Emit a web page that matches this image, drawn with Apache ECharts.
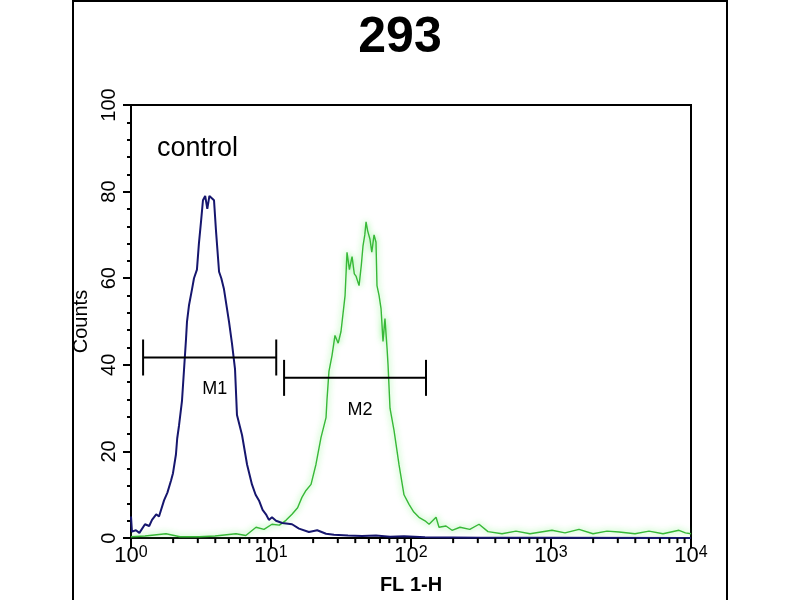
<!DOCTYPE html>
<html>
<head>
<meta charset="utf-8">
<style>
  html, body { margin: 0; padding: 0; background: #fff; }
  #main { width: 800px; height: 600px; }
</style>
<script src="https://cdn.jsdelivr.net/npm/echarts@6.0.0/dist/echarts.min.js"></script>
</head>
<body>
<div id="main"></div>
<script>
// control histogram (blue), FL1-H channel vs counts
var controlX = [1.0, 1.016, 1.084, 1.148, 1.259, 1.349, 1.413, 1.514, 1.585, 1.722, 1.82, 1.932, 1.995, 2.094, 2.138, 2.203, 2.312, 2.393, 2.472, 2.512, 2.594, 2.729, 2.818, 2.958, 3.055, 3.162, 3.266, 3.388, 3.508, 3.631, 3.917, 4.046, 4.256, 4.416, 4.613, 5.012, 5.26, 5.534, 5.715, 6.209, 6.745, 7.311, 7.762, 8.204, 8.71, 9.204, 9.66, 10.16, 10.86, 12.02, 14.13, 15.85, 18.66, 21.38, 24.72, 28.18, 35.48, 44.67, 56.23, 70.79, 89.13, 125.9, 316, 1000, 10000];
var controlY = [5, 1.5, 1.8, 1.2, 3.2, 2.8, 4.2, 5.5, 5, 8.7, 10.5, 13.3, 15, 19.3, 23, 26, 31.6, 39, 46, 50, 53.7, 57.5, 60, 62, 68, 73, 78, 79, 76, 79, 78, 71, 61.5, 60, 57.5, 50, 45, 39, 28.4, 23.8, 17, 12.4, 10, 8.7, 6.5, 5.5, 4.2, 4.8, 4, 3.5, 3.2, 2.2, 1.4, 1.8, 1, 0.8, 0.6, 0.5, 0.6, 0.3, 0.4, 0.2, 0.1, 0.1, 0];

// stained sample histogram (green)
var sampleX = [1, 1.259, 1.778, 2.239, 3.06, 3.98, 5.62, 6.61, 7.82, 8.91, 10.16, 11.48, 12.79, 14.13, 15.49, 16.63, 17.78, 19.32, 20.94, 22.75, 24.72, 25.12, 25.94, 27.29, 28.64, 30.2, 31.62, 33.81, 34.91, 36.31, 37.93, 39.36, 40.46, 42.56, 44.16, 45.39, 46.77, 47.75, 48.98, 50.93, 52.48, 54.45, 56.23, 57.15, 59.16, 61.09, 63.1, 65.16, 67.45, 68.55, 70.79, 75.68, 82.04, 89.13, 96.83, 104.7, 114, 125.9, 134.6, 151, 158.5, 177.8, 196.3, 223.9, 263, 306.2, 354.8, 446.7, 562.3, 707.9, 1016, 1259, 1585, 1995, 2512, 3062, 3981, 5012, 6310, 8204, 9120, 10000];
var sampleY = [0.3, 0.5, 1, 0.3, 0.3, 0.5, 1, 0.6, 2.5, 2, 3.2, 3, 4.1, 5.5, 7, 9.4, 11, 12.4, 17, 23.2, 27.8, 32, 38.5, 42.2, 46.8, 45, 47.7, 56, 66, 62, 65, 61, 60.5, 58.3, 63, 67.4, 70, 73, 71, 69, 66, 70, 68.3, 58.3, 56, 53, 45.4, 50.7, 43.8, 40, 30, 24.8, 17, 10, 7.8, 6, 4.8, 4, 3.2, 4.8, 2.5, 2.8, 1.8, 2.5, 2, 3.2, 1.5, 1, 1.6, 1, 1.8, 1.2, 2, 1, 1.6, 1.4, 1, 1.6, 1, 1.8, 1.2, 1];

// marker gates
var gateNames = ['M1', 'M2'];
var gateStart = [1.22, 12.4];
var gateEnd = [10.9, 128];
var gateLevel = [41.7, 37];

// axis ticks
var xExponents = ['0', '1', '2', '3', '4'];
var xMinorTicks = [2, 3, 4, 5, 6, 7, 8, 9, 20, 30, 40, 50, 60, 70, 80, 90, 200, 300, 400, 500, 600, 700, 800, 900, 2000, 3000, 4000, 5000, 6000, 7000, 8000, 9000];

function zip(a, b) {
    var out = [];
    for (var i = 0; i < a.length; i++) out.push([a[i], b[i]]);
    return out;
}

var sans = "'Liberation Sans', Arial, sans-serif";

var myChart = echarts.init(document.getElementById('main'));
var option = {
    backgroundColor: '#fff',
    animation: false,
    title: {
        text: '293',
        left: 'center',
        top: 8,
        textStyle: { fontSize: 50, fontWeight: 'bold', color: '#000', fontFamily: sans }
    },
    graphic: [
        {
            type: 'rect',
            z: -1,
            shape: { x: 73, y: 1, width: 654, height: 640 },
            style: { fill: 'none', stroke: '#000', lineWidth: 2 }
        },
        {
            type: 'text',
            left: 157,
            top: 135,
            style: { text: 'control', fontSize: 27, fill: '#000', fontFamily: sans }
        }
    ],
    grid: {
        left: 131,
        right: 109,
        top: 105,
        bottom: 59,
        show: true,
        borderColor: '#000',
        borderWidth: 2,
        containLabel: false
    },
    xAxis: {
        type: 'log',
        logBase: 10,
        min: 1,
        max: 10000,
        splitLine: { show: false },
        axisLine: { lineStyle: { color: '#000', width: 2 } },
        axisTick: { length: 10, lineStyle: { color: '#000', width: 2 } },
        axisLabel: {
            margin: 6,
            formatter: function (v) {
                var e = xExponents[Math.round(Math.log10(v))];
                return '{b|10}{s|' + e + '}';
            },
            rich: {
                b: { fontSize: 22, color: '#000', fontFamily: sans, lineHeight: 24 },
                s: { fontSize: 16, color: '#000', fontFamily: sans, verticalAlign: 'top', lineHeight: 24, padding: [0, 0, 10, 0] }
            }
        },
        name: 'FL 1-H',
        nameLocation: 'middle',
        nameGap: 36,
        nameTextStyle: { fontSize: 20, fontWeight: 'bold', color: '#000', fontFamily: sans }
    },
    yAxis: {
        type: 'value',
        min: 0,
        max: 100,
        interval: 20,
        splitLine: { show: false },
        axisLine: { show: true, lineStyle: { color: '#000', width: 2 } },
        axisTick: { show: true, length: 8, lineStyle: { color: '#000', width: 2 } },
        minorTick: { show: true, splitNumber: 5, length: 4, lineStyle: { color: '#000', width: 2 } },
        axisLabel: { rotate: 90, margin: 12, fontSize: 20, color: '#000', fontFamily: sans },
        name: 'Counts',
        nameLocation: 'middle',
        nameGap: 38,
        nameRotate: 90,
        nameTextStyle: { fontSize: 20, color: '#000', fontFamily: sans }
    },
    series: [
        {
            name: 'sample',
            type: 'line',
            data: zip(sampleX, sampleY),
            showSymbol: false,
            z: 2,
            lineStyle: {
                color: '#37b837',
                width: 1.4,
                shadowColor: 'rgba(100, 240, 100, 0.9)',
                shadowBlur: 6
            }
        },
        {
            name: 'control',
            type: 'line',
            data: zip(controlX, controlY),
            showSymbol: false,
            z: 3,
            lineStyle: { color: '#16166e', width: 2 }
        },
        {
            name: 'gates',
            type: 'custom',
            z: 4,
            data: gateNames.map(function (n, i) { return [gateStart[i], gateEnd[i], gateLevel[i]]; }),
            encode: { x: [0, 1], y: 2 },
            renderItem: function (params, api) {
                var a = api.coord([api.value(0), api.value(2)]);
                var b = api.coord([api.value(1), api.value(2)]);
                var st = { stroke: '#000', lineWidth: 2 };
                return {
                    type: 'group',
                    children: [
                        { type: 'line', shape: { x1: a[0], y1: a[1], x2: b[0], y2: b[1] }, style: st },
                        { type: 'line', shape: { x1: a[0], y1: a[1] - 18, x2: a[0], y2: a[1] + 18 }, style: st },
                        { type: 'line', shape: { x1: b[0], y1: b[1] - 18, x2: b[0], y2: b[1] + 18 }, style: st },
                        {
                            type: 'text',
                            x: (a[0] + b[0]) / 2 + 5,
                            y: a[1] + 32,
                            style: {
                                text: gateNames[params.dataIndex],
                                fontSize: 18,
                                fill: '#000',
                                align: 'center',
                                verticalAlign: 'middle',
                                fontFamily: sans
                            }
                        }
                    ]
                };
            }
        },
        {
            name: 'minorTicks',
            type: 'custom',
            z: 4,
            clip: false,
            data: xMinorTicks.map(function (v) { return [v, 0]; }),
            renderItem: function (params, api) {
                var p = api.coord([api.value(0), 0]);
                return {
                    type: 'line',
                    shape: { x1: p[0], y1: p[1], x2: p[0], y2: p[1] + 5 },
                    style: { stroke: '#000', lineWidth: 2 }
                };
            }
        }
    ]
};
myChart.setOption(option);
</script>
</body>
</html>
